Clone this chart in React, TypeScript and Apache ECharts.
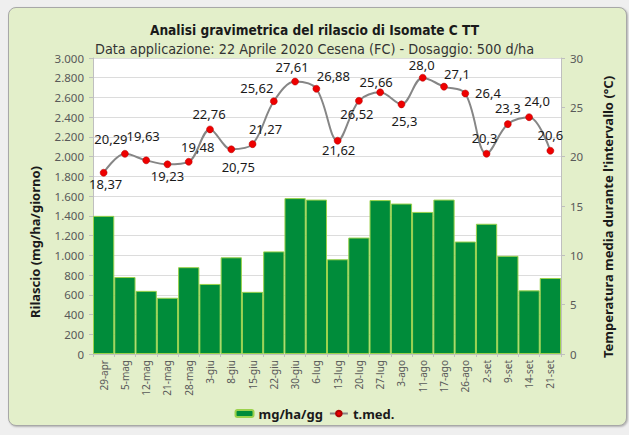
import React, { useEffect, useRef } from 'react';
import * as echarts from 'echarts';

const categories = ['29-apr', '5-mag', '12-mag', '21-mag', '28-mag', '3-giu', '8-giu', '15-giu', '22-giu', '30-giu', '6-lug', '13-lug', '20-lug', '27-lug', '3-ago', '11-ago', '17-ago', '26-ago', '2-set', '9-set', '14-set', '21-set'];
const release = [1400, 780, 640, 570, 880, 710, 980, 630, 1040, 1580, 1565, 960, 1180, 1560, 1525, 1440, 1565, 1140, 1320, 995, 645, 770];
const temperature = [18.37, 20.29, 19.63, 19.23, 19.48, 22.76, 20.75, 21.27, 25.62, 27.61, 26.88, 21.62, 25.66, 26.52, 25.3, 28.0, 27.1, 26.4, 20.3, 23.3, 24.0, 20.6];
const temperatureLabels = ['18,37', '20,29', '19,63', '19,23', '19,48', '22,76', '20,75', '21,27', '25,62', '27,61', '26,88', '21,62', '26,52', '25,66', '25,3', '28,0', '27,1', '26,4', '20,3', '23,3', '24,0', '20,6'];
const leftTicks = { min: 0, max: 3000, interval: 200 };
const rightTicks = { min: 0, max: 30, interval: 5 };

const labelPlacement: [string, number, number][] = [
  ['bottom', 2, -4],
  ['top', -14, 0],
  ['top', -3, -9],
  ['bottom', 0, -4],
  ['top', 9, 0],
  ['top', -1, 0],
  ['bottom', 7, 2],
  ['top', 13, 0],
  ['top', -17, 2],
  ['top', -3, 1],
  ['top', 17, 2],
  ['bottom', 1, -6],
  ['bottom', -2, -2],
  ['top', -4, 5],
  ['bottom', 3, 1],
  ['top', -1, 3],
  ['top', 13, 3],
  ['right', 1, -1],
  ['top', -2, 0],
  ['top', 0, -1],
  ['top', 8, -1],
  ['top', 0, 0],
];

const fmtThousands = (v: number) => {
  if (v >= 1000) {
    const th = Math.floor(v / 1000);
    const rest = String(v % 1000).padStart(3, '0');
    return th + '.' + rest;
  }
  return String(v);
};

const SANS = '"Noto Sans", "Open Sans", sans-serif';
const NARROW = '"Liberation Sans Narrow", "DejaVu Sans Condensed", "Noto Sans", sans-serif';

export default function App() {
  const ref = useRef<HTMLDivElement>(null);
  useEffect(() => {
    if (!ref.current) return;
    const chart = echarts.init(ref.current, undefined, { renderer: 'svg' });
    chart.setOption({
      animation: false,
      backgroundColor: 'transparent',
      title: [
        {
          text: 'Analisi gravimetrica del rilascio di Isomate C TT',
          left: 'center',
          top: 18,
          textStyle: { fontFamily: NARROW, fontSize: 13.6, fontWeight: 'bold', color: '#1a1a1a' },
        },
        {
          text: 'Data applicazione: 22 Aprile 2020 Cesena (FC) - Dosaggio: 500 d/ha',
          left: 'center',
          top: 36,
          textStyle: { fontFamily: NARROW, fontSize: 14.3, fontWeight: 'normal', color: '#333', lineHeight: 16 },
        },
      ],
      grid: { left: 93, right: 68, top: 58, bottom: 81, show: true, backgroundColor: '#ffffff', borderWidth: 0 },
      legend: {
        bottom: 10,
        left: 'center',
        itemWidth: 18,
        itemHeight: 7,
        itemGap: 6,
        textStyle: { fontFamily: SANS, fontSize: 13, fontWeight: 'bold', color: '#1a1a1a' },
        data: ['mg/ha/gg', 't.med.'],
      },
      xAxis: {
        type: 'category',
        data: categories,
        axisLine: { lineStyle: { color: '#bfbfbf' } },
        axisTick: { show: true, length: 3, lineStyle: { color: '#bfbfbf' } },
        axisLabel: { rotate: 90, fontFamily: SANS, fontSize: 10, color: '#595959', margin: 6, interval: 0 },
      },
      yAxis: [
        {
          type: 'value',
          ...leftTicks,
          axisLine: { show: true, lineStyle: { color: '#bfbfbf' } },
          axisTick: { show: true, length: 4, lineStyle: { color: '#bfbfbf' } },
          axisLabel: { fontFamily: SANS, fontSize: 11.5, color: '#595959', margin: 9, formatter: fmtThousands },
          splitLine: { show: true, lineStyle: { color: '#dcdcdc', width: 1 } },
        },
        {
          type: 'value',
          ...rightTicks,
          position: 'right',
          axisLine: { show: true, lineStyle: { color: '#bfbfbf' } },
          axisTick: { show: true, length: 4, lineStyle: { color: '#bfbfbf' } },
          axisLabel: { fontFamily: SANS, fontSize: 11.5, color: '#595959', margin: 9 },
          splitLine: { show: false },
        },
      ],
      graphic: [
        {
          type: 'text',
          x: 35,
          y: 242,
          rotation: Math.PI / 2,
          style: {
            text: 'Rilascio (mg/ha/giorno)',
            fontFamily: SANS,
            fontSize: 13,
            fontWeight: 'bold',
            fill: '#1a1a1a',
            align: 'center',
            verticalAlign: 'middle',
          },
        },
        {
          type: 'text',
          x: 608,
          y: 217,
          rotation: Math.PI / 2,
          style: {
            text: "Temperatura media durante l'intervallo (°C)",
            fontFamily: SANS,
            fontSize: 13,
            fontWeight: 'bold',
            fill: '#1a1a1a',
            align: 'center',
            verticalAlign: 'middle',
          },
        },
      ],
      series: [
        {
          name: 'mg/ha/gg',
          type: 'bar',
          yAxisIndex: 0,
          data: release,
          barCategoryGap: '0%',
          itemStyle: { color: '#008c3a', borderColor: '#9bd24c', borderWidth: 1 },
        },
        {
          name: 't.med.',
          type: 'line',
          yAxisIndex: 1,
          smooth: 0.35,
          data: temperature.map((v, i) => ({
            value: v,
            label: {
              position: labelPlacement[i][0],
              offset: [labelPlacement[i][1], labelPlacement[i][2]],
              formatter: temperatureLabels[i],
            },
          })),
          symbol: 'circle',
          symbolSize: 7,
          lineStyle: { color: '#868686', width: 2 },
          itemStyle: { color: '#ee0000', borderColor: '#b00000', borderWidth: 0.5 },
          label: {
            show: true,
            fontFamily: SANS,
            fontSize: 13,
            color: '#1a1a1a',
            distance: 5,
          },
          z: 5,
        },
      ],
    });
    return () => chart.dispose();
  }, []);

  return (
    <div style={{ position: 'fixed', left: 0, top: 0, width: 629, height: 435, background: '#efefef' }}>
      <div
        style={{
          position: 'absolute',
          left: 8,
          top: 7,
          width: 617,
          height: 417,
          background: '#e3efca',
          border: '1px solid #a8a8a8',
          borderRadius: 8,
          boxShadow: '1px 1px 2px rgba(0,0,0,0.25)',
        }}
      />
      <div ref={ref} style={{ position: 'absolute', left: 0, top: 0, width: 629, height: 435 }} />
    </div>
  );
}
